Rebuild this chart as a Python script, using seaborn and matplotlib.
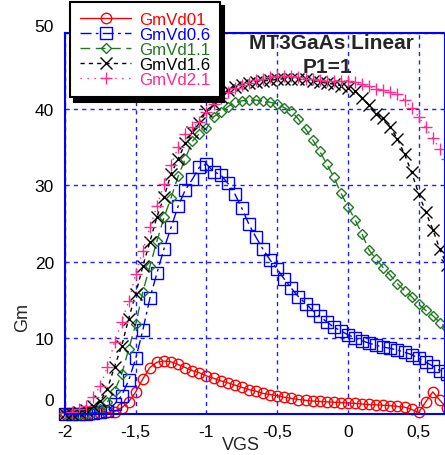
import numpy as np
import pandas as pd
import seaborn as sns
import matplotlib.pyplot as plt
import matplotlib.transforms as mtransforms

# gate voltage sweep
vgs = [-2.00, -1.95, -1.90, -1.85, -1.80, -1.75, -1.70, -1.65, -1.60, -1.55,
       -1.50, -1.45, -1.40, -1.35, -1.30, -1.25, -1.20, -1.15, -1.10, -1.05,
       -1.00, -0.95, -0.90, -0.85, -0.80, -0.75, -0.70, -0.65, -0.60, -0.55,
       -0.50, -0.45, -0.40, -0.35, -0.30, -0.25, -0.20, -0.15, -0.10, -0.05,
       0.00, 0.05, 0.10, 0.15, 0.20, 0.25, 0.30, 0.35, 0.40, 0.45,
       0.50, 0.55, 0.60, 0.65, 0.70]

gm_vd01 = [0, 0, 0, 0, 0.05, 0.1, 0.2, 0.3, 0.8, 1.6,
           2.9, 4.6, 6.1, 6.8, 6.95, 6.85, 6.5, 6.1, 5.7, 5.4,
           5.0, 4.7, 4.35, 4.1, 3.8, 3.5, 3.2, 3.0, 2.7, 2.55,
           2.4, 2.2, 2.05, 1.9, 1.8, 1.7, 1.65, 1.6, 1.55, 1.5,
           1.45, 1.4, 1.3, 1.25, 1.2, 1.15, 1.1, 1.0, 0.9, 0.6,
           0.2, 1.6, 2.9, 1.8, 0.8]

gm_vd06 = [0, 0, 0, 0, 0.1, 0.2, 0.4, 1.3, 2.4, 4.4,
           7.3, 11.0, 15.2, 18.5, 21.7, 24.5, 27.3, 29.4, 30.8, 32.4,
           32.8, 31.8, 31.4, 30.3, 28.9, 27.0, 24.9, 23.2, 21.6, 20.2,
           19.0, 17.7, 16.5, 15.4, 14.5, 13.6, 12.8, 12.1, 11.4, 10.9,
           10.4, 10.0, 9.6, 9.3, 9.0, 8.8, 8.6, 8.4, 8.1, 7.8,
           7.3, 6.8, 6.3, 5.7, 5.2]

gm_vd11 = [0, 0, 0, 0.1, 0.3, 0.7, 1.6, 3.0, 5.2, 8.5,
           11.8, 16.0, 19.4, 22.7, 25.8, 28.4, 31.2, 33.5, 35.8, 36.8,
           37.5, 39.0, 39.6, 40.3, 40.9, 41.1, 41.2, 41.2, 41.1, 40.9,
           40.7, 40.2, 39.7, 38.7, 37.4, 36.0, 34.5, 32.8, 31.1, 29.0,
           27.2, 25.5, 23.6, 21.5, 20.3, 19.2, 18.2, 17.1, 16.2, 15.4,
           14.4, 13.6, 12.9, 12.0, 11.3]

gm_vd16 = [0, 0, 0.2, 0.5, 1.0, 1.7, 3.3, 6.2, 8.9, 12.5,
           15.8, 19.4, 22.6, 25.9, 28.5, 31.5, 33.5, 35.5, 37.0, 38.2,
           39.8, 40.7, 41.6, 42.5, 42.9, 43.2, 43.4, 43.6, 43.7, 43.8,
           43.9, 44.0, 44.0, 43.9, 43.9, 43.7, 43.6, 43.4, 43.3, 43.1,
           42.8, 42.4, 41.5, 40.5, 39.4, 38.8, 37.6, 36.1, 34.1, 31.7,
           28.9, 26.5, 24.2, 21.6, 19.5]

gm_vd21 = [0.1, 0.3, 0.6, 1.1, 2.2, 3.7, 6.2, 9.4, 12.1, 14.8,
           18.4, 21.4, 24.5, 27.3, 30.2, 32.7, 35.0, 36.8, 37.6, 38.3,
           39.6, 40.7, 41.5, 42.2, 42.8, 43.2, 43.5, 43.8, 44.0, 44.2,
           44.3, 44.4, 44.4, 44.2, 44.0, 43.9, 43.8, 43.7, 43.7, 43.7,
           43.7, 43.6, 43.3, 43.0, 42.7, 42.5, 42.2, 42.0, 41.2, 40.2,
           39.0, 37.6, 36.2, 34.8, 33.5]

series_names = ['GmVd01', 'GmVd0.6', 'GmVd1.1', 'GmVd1.6', 'GmVd2.1']
x_ticks = [-2, -1.5, -1, -0.5, 0, 0.5]
x_tick_labels = ['-2', '-1,5', '-1', '-0,5', '0', '0,5']
y_ticks = [0, 10, 20, 30, 40, 50]

df = pd.DataFrame({'VGS': vgs, 'GmVd01': gm_vd01, 'GmVd0.6': gm_vd06,
                   'GmVd1.1': gm_vd11, 'GmVd1.6': gm_vd16, 'GmVd2.1': gm_vd21})

styles = {
    'GmVd01': dict(color='#FF0000', marker='o', ls='-', ms=7.5),
    'GmVd0.6': dict(color='#0000FF', marker='s', ls=(0, (8, 3, 2, 3)), ms=8.5),
    'GmVd1.1': dict(color='#207A20', marker='D', ls=(0, (7, 4)), ms=5.5),
    'GmVd1.6': dict(color='#000000', marker='x', ls=(0, (3, 3)), ms=8),
    'GmVd2.1': dict(color='#FF2A8A', marker='+', ls=(0, (1, 4)), ms=9),
}

sns.set_style('white')
plt.rcParams['font.family'] = ['Liberation Sans', 'DejaVu Sans']

fig = plt.figure(figsize=(4.45, 4.56), dpi=100)
ax = fig.add_axes([65/445, 1-415/456, 1-65/445, (415-34)/456])

for name in series_names:
    st = styles[name]
    sns.lineplot(data=df, x='VGS', y=name, ax=ax, label=name, sort=False,
                 estimator=None, color=st['color'], marker=st['marker'],
                 linestyle=st['ls'], markersize=st['ms'], markerfacecolor='none',
                 markeredgecolor=st['color'], markeredgewidth=1.0, linewidth=1.0,
                 clip_on=False)

ax.set_xlim(-2, 0.686)
ax.set_ylim(0, 50)
ax.set_xticks(x_ticks)
ax.set_xticklabels(x_tick_labels)
ax.set_yticks(y_ticks)

ax.grid(True, color='#2020FF', linestyle=(0, (3, 3)), linewidth=1.0)
for sp in ax.spines.values():
    sp.set_color('#0000FF')
    sp.set_linewidth(1.5)
ax.tick_params(direction='in', length=6, width=1.2, color='#0000FF',
               labelsize=12.5, labelcolor='black')
ax.tick_params(axis='x', pad=7)
ax.tick_params(axis='y', pad=8)

# shift first and last y labels up a bit
ylabels = ax.get_yticklabels()
for lab, dy in [(ylabels[0], 15), (ylabels[-1], 8)]:
    lab.set_transform(lab.get_transform() +
                      mtransforms.ScaledTranslation(0, dy/100, fig.dpi_scale_trans))

ax.set_xlabel('VGS', fontsize=13)
ax.set_ylabel('Gm', fontsize=13)
ax.xaxis.set_label_coords(0.463, -0.058)
ax.yaxis.set_label_coords(-0.09, 0.255)

ax.text(0.70, 0.974, 'MT3GaAs Linear', transform=ax.transAxes,
        ha='center', va='center', fontsize=15, fontweight='bold')
ax.text(0.69, 0.913, 'P1=1', transform=ax.transAxes,
        ha='center', va='center', fontsize=15, fontweight='bold')

leg = ax.legend(loc='upper left', bbox_to_anchor=(70/445, 1-3/456),
                bbox_transform=fig.transFigure, borderaxespad=0, fontsize=12.2,
                labelcolor='linecolor', frameon=True, fancybox=False,
                shadow={'ox': 3, 'oy': -3, 'facecolor': 'black', 'edgecolor': 'black', 'alpha': 1},
                handlelength=3.0, handletextpad=0.45, labelspacing=0.0,
                borderpad=0.6)
leg.get_frame().set_edgecolor('black')
leg.get_frame().set_linewidth(1.5)
leg.get_frame().set_alpha(1)

fig.savefig('out.png', dpi=100)
